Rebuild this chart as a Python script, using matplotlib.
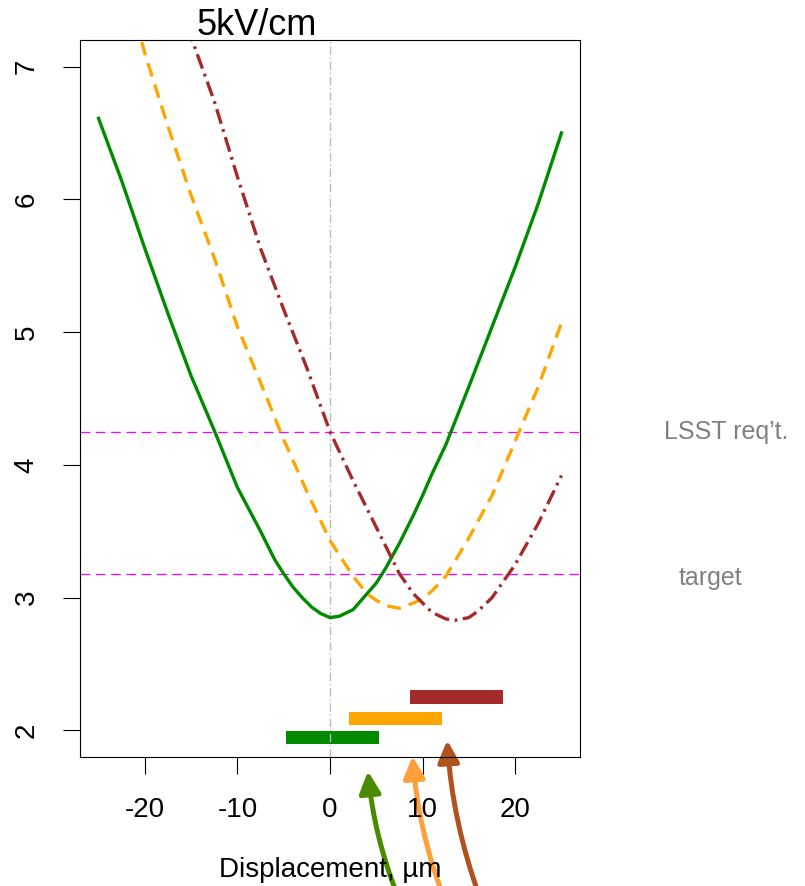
import matplotlib.pyplot as plt
from matplotlib.patches import FancyArrowPatch

plt.rcParams['font.family'] = ['Liberation Sans', 'DejaVu Sans']
plt.rcParams['lines.scale_dashes'] = False
plt.rcParams['axes.unicode_minus'] = False

# curves (displacement in um)
x_green = [-25, -22.5, -20, -17.5, -15, -12.5, -10, -7.5, -6, -5, -4, -3, -2, -1, 0, 1, 2.5,
           4, 5, 6, 7.5, 9, 10, 11, 12.5, 15, 17.5, 20, 22.5, 25]
y_green = [6.61, 6.14, 5.63, 5.14, 4.67, 4.26, 3.83, 3.50, 3.29, 3.18, 3.08, 3.00, 2.93, 2.88,
           2.85, 2.86, 2.91, 3.03, 3.11, 3.22, 3.41, 3.62, 3.77, 3.93, 4.15, 4.59, 5.04, 5.49,
           5.97, 6.50]

x_orange = [-22.5, -20, -17.5, -15, -12.5, -10, -7.5, -5, -2.5, 0, 2.5, 4, 5, 6, 7.5, 9, 10,
            11, 12.5, 15, 17.5, 20, 22.5, 25]
y_orange = [7.75, 7.10, 6.55, 6.03, 5.56, 5.04, 4.62, 4.19, 3.80, 3.43, 3.16, 3.03, 2.98, 2.94,
            2.92, 2.96, 2.99, 3.05, 3.16, 3.45, 3.77, 4.18, 4.59, 5.07]

x_brown = [-17.5, -15, -12.5, -10, -7.5, -5, -2.5, 0, 2.5, 5, 7.5, 9, 10, 11, 12.5, 13.5,
           15, 16, 17.5, 20, 22.5, 25]
y_brown = [7.75, 7.22, 6.74, 6.17, 5.63, 5.17, 4.73, 4.25, 3.88, 3.53, 3.18, 3.03, 2.96, 2.89,
           2.84, 2.83, 2.85, 2.90, 3.00, 3.25, 3.56, 3.92]

lsst_req = 4.25
target = 3.18

# range bars: left, right, height
bar_left = [-4.8, 2.05, 8.6]
bar_right = [5.25, 12.1, 18.65]
bar_y = [1.947, 2.09, 2.25]
bar_colors = ['#008B00', '#FFA500', '#A52A2A']

# arrows pointing at the bars (tail -> tip)
arrow_tail = [(7.5, 0.72), (12.4, 0.72), (16.3, 0.72)]
arrow_tip = [(4.07, 1.714), (8.89, 1.827), (12.64, 1.947)]
arrow_colors = ['#4A8A00', '#FF9F3A', '#B0521F']

fig = plt.figure(figsize=(8.05, 8.86), dpi=100)
ax = fig.add_axes([80/805, 129/886, 500/805, 717/886])

ax.axvline(0, color='#BBBBBB', lw=1, linestyle=(0, (6, 2, 1, 2)))
ax.axhline(lsst_req, color='#FF00FF', lw=0.9, dashes=(7, 4))
ax.axhline(target, color='#FF00FF', lw=0.9, dashes=(7, 4))

ax.plot(x_green, y_green, color='#008B00', lw=2.4)
ax.plot(x_orange, y_orange, color='#FFA500', lw=2.4, dashes=(10, 6))
ax.plot(x_brown, y_brown, color='#A52A2A', lw=2.4, dashes=(11, 4, 2, 4))

for l, r, y, c in zip(bar_left, bar_right, bar_y, bar_colors):
    ax.barh(y, r - l, left=l, height=0.105, color=c)

for t, h, c in zip(arrow_tail, arrow_tip, arrow_colors):
    a = FancyArrowPatch(t, h, connectionstyle='arc3,rad=-0.075',
                        arrowstyle='-|>,head_length=0.65,head_width=0.32',
                        mutation_scale=20, color=c, lw=3.6, clip_on=False)
    ax.add_patch(a)

ax.set_xlim(-27, 27)
ax.set_ylim(1.8, 7.2)
ax.set_xticks([-20, -10, 0, 10, 20])
ax.set_yticks([2, 3, 4, 5, 6, 7])
ax.set_yticklabels(['2', '3', '4', '5', '6', '7'], rotation=90, va='center')
ax.tick_params(length=12, width=0.8, pad=17, labelsize=20)
for s in ax.spines.values():
    s.set_linewidth(0.8)

ax.set_xlabel('Displacement, µm', fontsize=20, labelpad=24)
ax.text(1.292, lsst_req, "LSST req\u2019t.", transform=ax.get_yaxis_transform(),
        ha='center', va='center', fontsize=18, color='#808080', clip_on=False)
ax.text(1.26, target - 0.03, 'target', transform=ax.get_yaxis_transform(),
        ha='center', va='center', fontsize=18, color='#808080', clip_on=False)
fig.text(257/805, 1 - 35/886, '5kV/cm', ha='center', va='baseline', fontsize=26)

fig.savefig('out.png', dpi=100)
